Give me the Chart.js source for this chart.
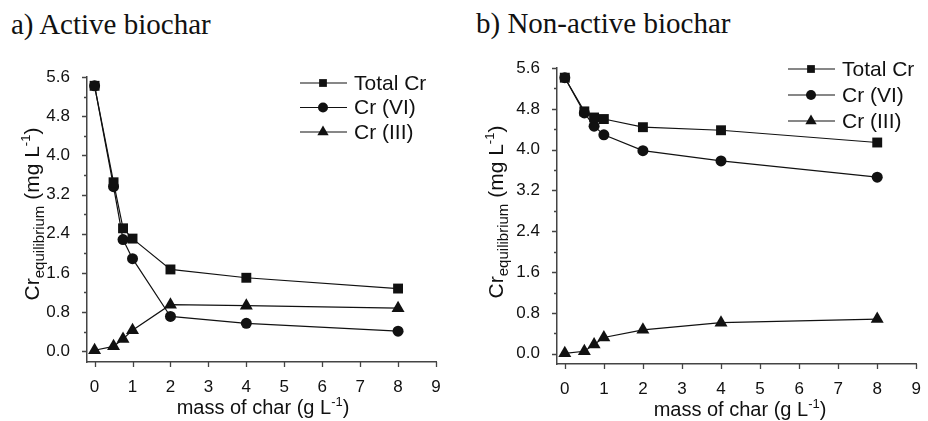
<!DOCTYPE html>
<html lang="en">
<head>
    <meta charset="UTF-8">
    <title>Cr equilibrium vs mass of char</title>
    <style>
        body {
            margin: 0;
            background: #fff;
            width: 928px;
            height: 421px;
            position: relative;
            overflow: hidden;
        }
        .panel-title {
            position: absolute;
            font-family: "Liberation Serif", "DejaVu Serif", serif;
            font-size: 29px;
            line-height: 29px;
            color: #111;
            white-space: nowrap;
        }
        canvas {
            position: absolute;
            top: 0;
        }
    </style>
    <script src="https://cdn.jsdelivr.net/npm/chart.js"></script>
</head>
<body>
    <div class="panel-title" style="left:11px; top:10px;">a) Active biochar</div>
    <div class="panel-title" style="left:476px; top:9px;">b) Non-active biochar</div>
    <canvas id="chartA" width="464" height="421" style="left:0"></canvas>
    <canvas id="chartB" width="464" height="421" style="left:464px"></canvas>

    <script>
        // mass of char (g/L)
        const massChar = [0, 0.5, 0.75, 1, 2, 4, 8];

        // a) active biochar
        const activeTotal = [5.42, 3.45, 2.51, 2.30, 1.67, 1.50, 1.28];
        const activeCr6   = [5.42, 3.36, 2.28, 1.89, 0.71, 0.57, 0.41];
        const activeCr3   = [0.02, 0.10, 0.25, 0.43, 0.95, 0.93, 0.88];

        // b) non-active biochar
        const nonActiveTotal = [5.41, 4.75, 4.63, 4.60, 4.44, 4.38, 4.14];
        const nonActiveCr6   = [5.41, 4.72, 4.46, 4.29, 3.98, 3.78, 3.46];
        const nonActiveCr3   = [0.01, 0.05, 0.18, 0.32, 0.47, 0.61, 0.68];

        const seriesNames = ['Total Cr', 'Cr (VI)', 'Cr (III)'];
        const xTicks = [0, 1, 2, 3, 4, 5, 6, 7, 8, 9];
        const yTicks = [0, 0.8, 1.6, 2.4, 3.2, 4.0, 4.8, 5.6];
        const yMinorTicks = [0.4, 1.2, 2.0, 2.8, 3.6, 4.4, 5.2];

        const INK = '#111';
        const AXIS = '#444';
        const SANS = '"Liberation Sans", Arial, sans-serif';

        function rich(ctx, parts, x, y, align) {
            // parts: [text, size, dy]
            let w = 0;
            parts.forEach(p => {
                ctx.font = p[1] + 'px ' + SANS;
                w += ctx.measureText(p[0]).width;
            });
            let cx = align === 'center' ? x - w / 2 : x;
            parts.forEach(p => {
                ctx.font = p[1] + 'px ' + SANS;
                ctx.fillText(p[0], cx, y + (p[2] || 0));
                cx += ctx.measureText(p[0]).width;
            });
        }

        const decor = {
            id: 'decor',
            afterDraw(chart, args, o) {
                const ctx = chart.ctx;
                const xs = chart.scales.x, ys = chart.scales.y;
                const area = chart.chartArea;
                ctx.save();

                // tick marks, outside
                ctx.strokeStyle = AXIS;
                ctx.lineWidth = 1.3;
                ctx.beginPath();
                yTicks.forEach(v => {
                    const p = Math.round(ys.getPixelForValue(v)) + 0.5;
                    ctx.moveTo(area.left - 5, p); ctx.lineTo(area.left, p);
                });
                yMinorTicks.forEach(v => {
                    const p = Math.round(ys.getPixelForValue(v)) + 0.5;
                    ctx.moveTo(area.left - 3, p); ctx.lineTo(area.left, p);
                });
                xTicks.forEach(v => {
                    const p = Math.round(xs.getPixelForValue(v)) + 0.5;
                    ctx.moveTo(p, area.bottom); ctx.lineTo(p, area.bottom + 5);
                });
                ctx.stroke();

                // axis titles
                ctx.fillStyle = INK;
                ctx.textBaseline = 'alphabetic';
                rich(ctx, [['mass of char (g L', 20], ['-1', 13, -8], [')', 20]], o.xTitle[0], o.xTitle[1], 'center');

                ctx.save();
                ctx.translate(o.yTitle[0], o.yTitle[1]);
                ctx.rotate(-Math.PI / 2);
                rich(ctx, [['Cr', 21], ['equilibrium', 15, 5], [' (mg L', 21], ['-1', 13, -9], [')', 21]], 0, 0, 'center');
                ctx.restore();

                // legend
                const [lx, ly, gap] = o.legend;
                chart.data.datasets.forEach((ds, i) => {
                    const y = ly + i * gap;
                    ctx.strokeStyle = INK;
                    ctx.lineWidth = 1.2;
                    ctx.beginPath();
                    ctx.moveTo(lx, y); ctx.lineTo(lx + 47, y);
                    ctx.stroke();
                    ctx.fillStyle = INK;
                    Chart.helpers.drawPoint(ctx, {
                        pointStyle: ds.pointStyle,
                        radius: ds.legendRadius,
                        rotation: 0,
                        borderWidth: 0
                    }, lx + 23, y);
                    ctx.font = '21px ' + SANS;
                    ctx.textBaseline = 'middle';
                    ctx.fillText(ds.label, lx + 54, y + 1);
                });
                ctx.restore();
            }
        };

        function dataset(label, ys, style, radius, legendRadius) {
            return {
                label: label,
                data: massChar.map((x, i) => ({ x: x, y: ys[i] })),
                showLine: true,
                borderColor: INK,
                backgroundColor: INK,
                borderWidth: 1.2,
                pointStyle: style,
                pointRadius: radius,
                pointBorderWidth: 0,
                legendRadius: legendRadius
            };
        }

        function makeChart(id, total, cr6, cr3, box) {
            const ctx = document.getElementById(id).getContext('2d');
            return new Chart(ctx, {
                type: 'scatter',
                data: {
                    datasets: [
                        dataset(seriesNames[0], total, 'rect', 7, 5.5),
                        dataset(seriesNames[1], cr6, 'circle', 5.5, 5),
                        dataset(seriesNames[2], cr3, 'triangle', 7.5, 6.5)
                    ]
                },
                options: {
                    responsive: false,
                    animation: false,
                    clip: false,
                    layout: {
                        padding: { left: 0, top: box.top, right: box.right, bottom: 0 }
                    },
                    plugins: {
                        legend: { display: false },
                        tooltip: { enabled: false },
                        decor: box
                    },
                    scales: {
                        x: {
                            type: 'linear',
                            min: -0.2,
                            max: 9,
                            grid: { display: false },
                            border: { display: true, color: AXIS, width: 1.5 },
                            afterBuildTicks: s => { s.ticks = xTicks.map(v => ({ value: v })); },
                            afterFit: s => { s.height = 421 - box.bottom; },
                            ticks: {
                                color: INK,
                                padding: 7,
                                font: { family: SANS, size: 17 },
                                callback: v => String(v)
                            }
                        },
                        y: {
                            type: 'linear',
                            min: box.ymin,
                            max: 5.6,
                            grid: { display: false },
                            border: { display: true, color: AXIS, width: 1.5 },
                            afterBuildTicks: s => { s.ticks = yTicks.map(v => ({ value: v })); },
                            afterFit: s => { s.width = box.left; },
                            ticks: {
                                color: INK,
                                padding: 9,
                                font: { family: SANS, size: 17 },
                                callback: v => v.toFixed(1)
                            }
                        }
                    }
                },
                plugins: [decor]
            });
        }

        makeChart('chartA', activeTotal, activeCr6, activeCr3, {
            left: 87, right: 28, top: 77, bottom: 362, ymin: -0.22,
            xTitle: [263, 414], yTitle: [39, 214], legend: [300, 83, 24.5]
        });

        makeChart('chartB', nonActiveTotal, nonActiveCr6, nonActiveCr3, {
            left: 93, right: 6, top: 68, bottom: 364, ymin: -0.2,
            xTitle: [276, 416], yTitle: [39, 212], legend: [324, 69, 26]
        });
    </script>
</body>
</html>
